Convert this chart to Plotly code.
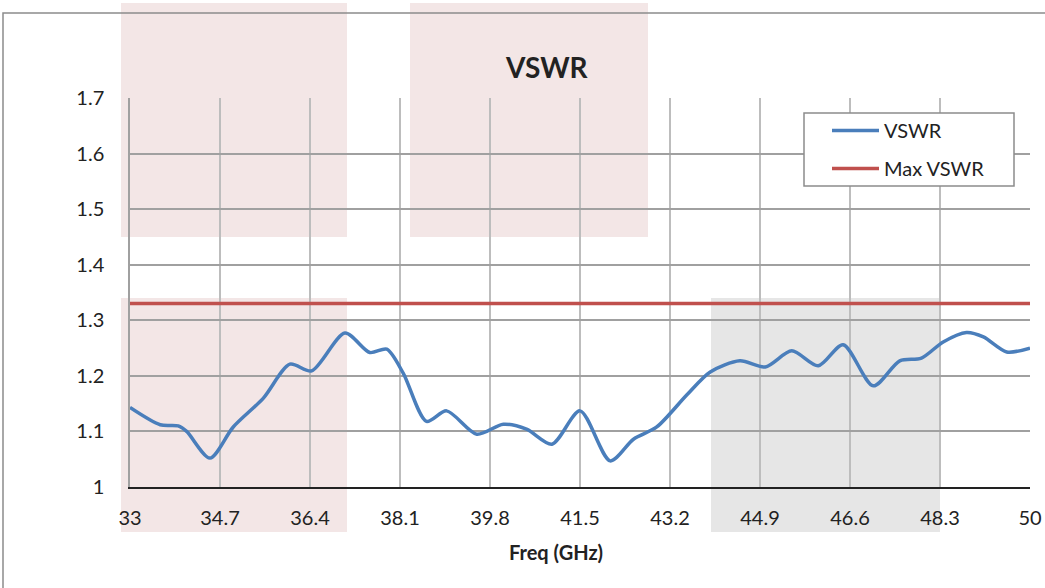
import plotly.graph_objects as go

freq = [33.0, 33.57, 33.91, 34.07, 34.51, 34.95, 35.52, 36.02, 36.43, 37.06, 37.53, 37.85,
        38.16, 38.6, 38.98, 39.55, 40.05, 40.49, 40.97, 41.5, 42.07, 42.51, 42.95, 43.52,
        43.96, 44.52, 45.0, 45.5, 46.0, 46.47, 47.04, 47.54, 47.95, 48.36, 48.8, 49.12,
        49.56, 50.0]
vswr = [1.143, 1.112, 1.110, 1.100, 1.052, 1.108, 1.160, 1.221, 1.209, 1.277, 1.242, 1.248,
        1.205, 1.118, 1.137, 1.095, 1.113, 1.104, 1.077, 1.137, 1.047, 1.086, 1.108, 1.166,
        1.207, 1.227, 1.216, 1.245, 1.218, 1.256, 1.182, 1.227, 1.232, 1.261, 1.278, 1.270,
        1.243, 1.250]
max_freq = [33.0, 50.0]
max_vswr = [1.33, 1.33]
x_ticks = [33, 34.7, 36.4, 38.1, 39.8, 41.5, 43.2, 44.9, 46.6, 48.3, 50]
x_ticktext = ["33", "34.7", "36.4", "38.1", "39.8", "41.5", "43.2", "44.9", "46.6", "48.3", "50"]

W, H = 1045, 588
L, R, T, B = 130, 1030, 98, 487
FONT = "Lato"

def px(x):
    return (x - L) / (R - L)

def py(y):
    return (B - y) / (B - T)

fig = go.Figure()
fig.add_trace(go.Scatter(x=freq, y=vswr, mode="lines", name="VSWR", legendgroup="a",
                         line=dict(color="#4A7EBB", width=3.5, shape="spline", smoothing=0.8)))
fig.add_trace(go.Scatter(x=max_freq, y=max_vswr, mode="lines", name="Max VSWR", legendgroup="b",
                         line=dict(color="#C0504D", width=3.5)))

shapes = []
rects = [(121, 3, 347, 237, "#F3E6E6"), (410, 3, 648, 237, "#F3E6E6"),
         (121, 298, 347, 532, "#F3E6E6"), (711, 298, 940, 532, "#E6E6E6")]
for x0, y0, x1, y1, c in rects:
    shapes.append(dict(type="rect", xref="paper", yref="paper",
                       x0=px(x0), x1=px(x1), y0=py(y1), y1=py(y0),
                       fillcolor=c, line=dict(width=0), layer="below"))
# outer chart border
shapes.append(dict(type="rect", xref="paper", yref="paper",
                   x0=px(3), x1=px(1070), y0=py(620), y1=py(13),
                   fillcolor="rgba(0,0,0,0)", line=dict(color="#8C8C8C", width=1.5), layer="above"))
# legend box
shapes.append(dict(type="rect", xref="paper", yref="paper",
                   x0=px(804), x1=px(1014), y0=py(186), y1=py(113),
                   fillcolor="white", line=dict(color="#8C8C8C", width=1.5), layer="above"))

fig.update_layout(
    width=W, height=H, autosize=False,
    margin=dict(l=L, r=W - R, t=T, b=H - B, autoexpand=False),
    paper_bgcolor="white", plot_bgcolor="rgba(0,0,0,0)",
    font=dict(family=FONT, size=20, color="#222222"),
    shapes=shapes,
    showlegend=True,
    legend=dict(x=px(827), y=py(111), xanchor="left", yanchor="top",
                bgcolor="rgba(0,0,0,0)", borderwidth=0,
                font=dict(size=20, family=FONT), itemwidth=47,
                tracegroupgap=9),
    annotations=[
        dict(text="<b>VSWR</b>", x=px(547), y=py(67), xref="paper", yref="paper",
             xanchor="center", yanchor="middle",
             showarrow=False, font=dict(size=28, family=FONT, color="#222222")),
        dict(text="<b>Freq (GHz)</b>", x=px(556), y=py(552), xref="paper", yref="paper",
             xanchor="center", yanchor="middle",
             showarrow=False, font=dict(size=20, family=FONT, color="#222222")),
    ],
)
fig.update_xaxes(range=[33, 50], tickvals=x_ticks, ticktext=x_ticktext,
                 showgrid=True, gridcolor="#BDBDBD", gridwidth=1.5,
                 showline=True, linecolor="#222222", linewidth=2, automargin=False,
                 ticks="", ticklabelstandoff=12, zeroline=False, mirror=False)
fig.update_yaxes(range=[1, 1.7], dtick=0.1, tick0=1,
                 showgrid=True, gridcolor="#A0A0A0", gridwidth=1.5,
                 showline=True, linecolor="#A0A0A0", linewidth=1.5, automargin=False,
                 ticks="", ticklabelstandoff=20, zeroline=False)

post = ("document.body.style.margin='0';"
        "document.body.style.overflow='hidden';"
        "document.documentElement.style.overflow='hidden';"
        "Plotly.relayout('{plot_id}', {width: 1045, height: 588});")
fig.write_html("out.html", post_script=post,
               config={"responsive": False, "displayModeBar": False})
